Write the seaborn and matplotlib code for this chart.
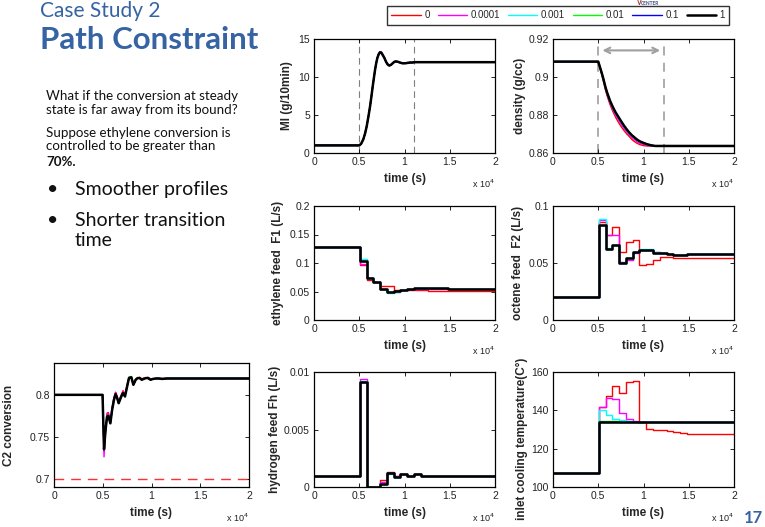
import matplotlib
matplotlib.use("Agg")
import matplotlib.pyplot as plt
import seaborn as sns
from matplotlib.lines import Line2D

sns.set_theme(style="white")
plt.rcParams["font.family"] = ["Liberation Sans", "DejaVu Sans"]

W, H = 765, 527
fig = plt.figure(figsize=(W / 100, H / 100), dpi=100)

# ---------------- data ----------------
series = ["0", "0.0001", "0.001", "0.01", "0.1", "1"]
colors = ["#ff0000", "#ff00ff", "#00ffff", "#00ff00", "#0000ff", "#000000"]
widths = [1.0, 1.0, 1.0, 1.0, 1.0, 1.8]

# MI (smooth)
mi_t = [0, 5000, 5200, 5450, 5650, 5820, 6000, 6190, 6340, 6480, 6620, 6740, 6870, 7000, 7150, 7290, 7440, 7590,
        7780, 7960, 8140, 8320, 8500, 8690, 8880, 9060, 9280, 9500, 9780, 10060, 10330, 10610, 10880, 11160, 11500, 20000]
mi_black = [1.0, 1.0, 1.2, 1.8, 2.6, 3.5, 4.7, 6.1, 7.4, 8.7, 9.9, 10.9, 11.8, 12.5, 13.0, 13.25, 13.2, 12.9,
            12.5, 12.0, 11.65, 11.5, 11.6, 11.8, 12.0, 12.05, 12.0, 11.9, 11.8, 11.8, 11.85, 11.9, 11.9, 11.95, 11.95, 11.95]
mi_magenta = [1.0, 1.0, 1.2, 1.8, 2.6, 3.5, 4.7, 6.1, 7.4, 8.7, 9.9, 10.9, 11.8, 12.55, 13.1, 13.35, 13.3, 13.0,
              12.55, 12.05, 11.7, 11.55, 11.65, 11.85, 12.05, 12.1, 12.0, 11.9, 11.8, 11.85, 11.9, 11.95, 11.9, 12.0, 11.95, 11.95]
mi_red = [1.0, 1.0, 1.2, 1.8, 2.6, 3.5, 4.7, 6.1, 7.4, 8.7, 9.9, 10.9, 11.8, 12.5, 13.05, 13.3, 13.25, 12.95,
          12.5, 12.0, 11.7, 11.55, 11.6, 11.8, 12.0, 12.05, 12.0, 11.9, 11.85, 11.8, 11.85, 11.9, 11.95, 11.95, 11.95, 11.95]

# density (smooth)
dens_t = [0, 5000, 5200, 5400, 5600, 5800, 6000, 6300, 6600, 6900, 7200, 7500, 7800, 8100, 8400, 8700, 9000, 9300,
          9600, 10000, 10400, 10800, 11300, 12000, 20000]
dens_black = [0.9081, 0.9081, 0.9050, 0.9019, 0.8984, 0.8946, 0.8915, 0.8875, 0.8843, 0.8815, 0.8792, 0.8769, 0.8747,
              0.8727, 0.8709, 0.8694, 0.8682, 0.8670, 0.8661, 0.8653, 0.8646, 0.8641, 0.8637, 0.8637, 0.8637]
dens_magenta = [0.9081, 0.9081, 0.9047, 0.9014, 0.8977, 0.8938, 0.8905, 0.8863, 0.8829, 0.8800, 0.8776, 0.8753, 0.8732,
                0.8713, 0.8697, 0.8682, 0.8670, 0.8659, 0.8651, 0.8645, 0.8640, 0.8638, 0.8637, 0.8637, 0.8637]
dens_red = [0.9081, 0.9081, 0.9045, 0.9011, 0.8972, 0.8932, 0.8898, 0.8855, 0.8820, 0.8790, 0.8764, 0.8741, 0.8721,
            0.8703, 0.8688, 0.8672, 0.8660, 0.8651, 0.8644, 0.8639, 0.8637, 0.8637, 0.8637, 0.8637, 0.8637]
dens_cyan = [0.9081, 0.9081, 0.9049, 0.9017, 0.8981, 0.8943, 0.8911, 0.8870, 0.8837, 0.8809, 0.8786, 0.8763, 0.8741,
             0.8721, 0.8704, 0.8690, 0.8678, 0.8667, 0.8658, 0.8651, 0.8645, 0.8640, 0.8637, 0.8637, 0.8637]

# C2 conversion (smooth)
c2_t = [0, 4980, 5130, 5280, 5440, 5570, 5780, 5960, 6150, 6320, 6480, 6630, 6900, 7080, 7280, 7500, 7690, 7930,
        8140, 8380, 8580, 8790, 9000, 9200, 9420, 9640, 9900, 10150, 10450, 10770, 11100, 11520, 12000, 20000]
c2_black = [0.800, 0.800, 0.735, 0.757, 0.774, 0.775, 0.766, 0.782, 0.794, 0.801, 0.796, 0.790, 0.798, 0.802, 0.798,
            0.810, 0.820, 0.821, 0.812, 0.818, 0.820, 0.820, 0.818, 0.819, 0.820, 0.820, 0.818, 0.819, 0.8195, 0.8195,
            0.8190, 0.8195, 0.8195, 0.8195]
c2_magenta = [0.800, 0.800, 0.726, 0.755, 0.777, 0.778, 0.767, 0.784, 0.796, 0.803, 0.797, 0.791, 0.799, 0.804, 0.799,
              0.811, 0.820, 0.821, 0.813, 0.818, 0.820, 0.820, 0.818, 0.819, 0.820, 0.820, 0.818, 0.819, 0.8195, 0.8195,
              0.8190, 0.8195, 0.8195, 0.8195]
c2_red = [0.800, 0.800, 0.733, 0.757, 0.778, 0.779, 0.768, 0.785, 0.797, 0.803, 0.798, 0.792, 0.800, 0.805, 0.800,
          0.812, 0.821, 0.821, 0.813, 0.819, 0.820, 0.821, 0.819, 0.820, 0.820, 0.821, 0.819, 0.819, 0.8195, 0.8195,
          0.8195, 0.8195, 0.8195, 0.8195]
c2_green = [0.800, 0.800, 0.735, 0.757, 0.774, 0.776, 0.766, 0.782, 0.795, 0.801, 0.796, 0.790, 0.798, 0.802, 0.798,
            0.811, 0.821, 0.822, 0.812, 0.818, 0.820, 0.820, 0.818, 0.819, 0.820, 0.820, 0.818, 0.819, 0.8195, 0.8195,
            0.8190, 0.8195, 0.8195, 0.8195]
c2_bound = [0.70, 0.70]
c2_bound_t = [0, 20000]

# piecewise-constant controls (step edges, post)
t_steps = [0, 5100, 5850, 6550, 7300, 8050, 8800, 9550, 10300, 11050, 11800, 12550, 13300, 14050, 14800, 20000]

f1_red = [0.128, 0.096, 0.071, 0.067, 0.059, 0.059, 0.052, 0.052, 0.053, 0.053, 0.052, 0.051, 0.051, 0.051, 0.051, 0.051]
f1_magenta = [0.128, 0.099, 0.073, 0.067, 0.055, 0.050, 0.050, 0.052, 0.054, 0.055, 0.055, 0.055, 0.055, 0.055, 0.054, 0.054]
f1_cyan = [0.128, 0.107, 0.074, 0.067, 0.054, 0.048, 0.050, 0.053, 0.055, 0.056, 0.056, 0.056, 0.056, 0.056, 0.054, 0.054]
f1_black = [0.128, 0.104, 0.074, 0.067, 0.054, 0.049, 0.051, 0.053, 0.055, 0.056, 0.056, 0.056, 0.056, 0.056, 0.054, 0.054]

f2_red = [0.020, 0.086, 0.075, 0.082, 0.060, 0.068, 0.070, 0.048, 0.049, 0.053, 0.055, 0.055, 0.054, 0.054, 0.054, 0.054]
f2_magenta = [0.020, 0.088, 0.075, 0.075, 0.051, 0.053, 0.059, 0.061, 0.061, 0.060, 0.059, 0.058, 0.057, 0.057, 0.058, 0.058]
f2_cyan = [0.020, 0.089, 0.063, 0.066, 0.050, 0.054, 0.060, 0.062, 0.062, 0.060, 0.059, 0.058, 0.057, 0.057, 0.058, 0.058]
f2_black = [0.020, 0.083, 0.062, 0.066, 0.050, 0.054, 0.060, 0.061, 0.061, 0.059, 0.059, 0.058, 0.057, 0.057, 0.058, 0.058]

fh_red = [0.0010, 0.0091, 0.0, 0.0, 0.0006, 0.0013, 0.0010, 0.0011, 0.0010, 0.0011, 0.0010, 0.0010, 0.00095, 0.00095, 0.00095, 0.00095]
fh_magenta = [0.0010, 0.0094, 0.0, 0.0, 0.0004, 0.0012, 0.0010, 0.0011, 0.0010, 0.0011, 0.0010, 0.0010, 0.0010, 0.0010, 0.0010, 0.0010]
fh_cyan = [0.0010, 0.0092, 0.0, 0.0, 0.0003, 0.0011, 0.0009, 0.0011, 0.0010, 0.0011, 0.0010, 0.0010, 0.0010, 0.0010, 0.0010, 0.0010]
fh_black = [0.0010, 0.0091, 0.0, 0.0, 0.0003, 0.0012, 0.0009, 0.0011, 0.0010, 0.0011, 0.0010, 0.0010, 0.0010, 0.0010, 0.0010, 0.0010]

tc_red = [107.5, 142.0, 147.5, 152.5, 149.0, 155.0, 155.5, 134.0, 130.5, 130.0, 129.5, 129.0, 128.8, 128.3, 127.8, 127.8]
tc_magenta = [107.5, 142.0, 146.5, 146.0, 138.5, 135.5, 134.5, 134.0, 133.8, 133.8, 133.8, 133.8, 133.8, 133.8, 133.8, 133.8]
tc_cyan = [107.5, 140.0, 137.5, 135.5, 134.8, 134.2, 134.0, 133.8, 133.8, 133.8, 133.8, 133.8, 133.8, 133.8, 133.8, 133.8]
tc_green = [107.5, 134.5, 134.5, 134.5, 134.0, 133.8, 133.8, 133.8, 133.8, 133.8, 133.8, 133.8, 133.8, 133.8, 133.8, 133.8]
tc_black = [107.5, 133.8, 133.8, 133.8, 133.8, 133.8, 133.8, 133.8, 133.8, 133.8, 133.8, 133.8, 133.8, 133.8, 133.8, 133.8]

x_ticks = [0, 5000, 10000, 15000, 20000]
x_ticklabels = ["0", "0.5", "1", "1.5", "2"]

# ---------------- helpers ----------------
def add_ax(l, t, r, b):
    return fig.add_axes([l / W, 1 - b / H, (r - l) / W, (b - t) / H])


def style(ax, ylim, yticks, yticklabels, ylabel, ylab_x, hpx):
    ax.set_xlim(0, 20000)
    ax.set_ylim(*ylim)
    ax.set_xticks(x_ticks)
    ax.set_xticklabels(x_ticklabels)
    ax.set_yticks(yticks)
    ax.set_yticklabels(yticklabels)
    ax.set_facecolor("white")
    for s in ax.spines.values():
        s.set_color("black")
        s.set_linewidth(0.9)
        s.set_visible(True)
    ax.tick_params(direction="in", top=True, right=True, bottom=True, left=True,
                   length=3, width=0.6, labelsize=7.5, pad=3, colors="black",
                   labelcolor="#222222")
    ax.set_xlabel("time (s)", fontsize=8.5, fontweight="bold", labelpad=4)
    ax.set_ylabel(ylabel, fontsize=8.5, fontweight="bold")
    ax.yaxis.set_label_coords(ylab_x, 0.5)
    ax.text(1.0, -31 / hpx, r"x 10$^4$", transform=ax.transAxes, ha="right",
            va="center", fontsize=6.5, color="#222222")
    ax.grid(False)


def draw(ax, t, ys, steps=False):
    for y, c, w in zip(ys, colors, widths):
        kw = dict(drawstyle="steps-post") if steps else {}
        sns.lineplot(x=t, y=y, ax=ax, color=c, lw=w, estimator=None, sort=False, **kw)


# ---------------- panels ----------------
ax_mi = add_ax(314, 39, 495, 153)
draw(ax_mi, mi_t, [mi_red, mi_magenta, mi_black, mi_black, mi_black, mi_black])
for xv in [5000, 11000]:
    ax_mi.axvline(xv, color="#7f7f7f", lw=0.8, dashes=(6, 4), zorder=0)
style(ax_mi, (0, 15), [0, 5, 10, 15], ["0", "5", "10", "15"], "MI (g/10min)", -0.116, 114)

ax_de = add_ax(553, 39, 734, 153)
draw(ax_de, dens_t, [dens_red, dens_magenta, dens_cyan, dens_black, dens_black, dens_black])
for xv in [5000, 12300]:
    ax_de.axvline(xv, color="#a6a6a6", lw=1.3, dashes=(5, 4), zorder=0)
ax_de.annotate("", xy=(5150, 0.914), xytext=(12150, 0.914),
               arrowprops=dict(arrowstyle="<->", color="#a0a0a0", lw=1.5, mutation_scale=10))
style(ax_de, (0.86, 0.92), [0.86, 0.88, 0.90, 0.92], ["0.86", "0.88", "0.9", "0.92"],
      "density (g/cc)", -0.149, 114)

ax_f1 = add_ax(314, 206, 495, 320)
draw(ax_f1, t_steps, [f1_red, f1_magenta, f1_cyan, f1_black, f1_black, f1_black], steps=True)
style(ax_f1, (0, 0.2), [0, 0.05, 0.1, 0.15, 0.2], ["0", "0.05", "0.1", "0.15", "0.2"],
      "ethylene feed  F1 (L/s)", -0.166, 114)

ax_f2 = add_ax(553, 206, 734, 320)
draw(ax_f2, t_steps, [f2_red, f2_magenta, f2_cyan, f2_black, f2_black, f2_black], steps=True)
style(ax_f2, (0, 0.1), [0, 0.05, 0.1], ["0", "0.05", "0.1"], "octene feed  F2 (L/s)", -0.160, 114)

ax_fh = add_ax(314, 372, 495, 487)
draw(ax_fh, t_steps, [fh_red, fh_magenta, fh_cyan, fh_black, fh_black, fh_black], steps=True)
style(ax_fh, (0, 0.01), [0, 0.005, 0.01], ["0", "0.005", "0.01"], "hydrogen feed Fh (L/s)", -0.182, 115)

ax_tc = add_ax(553, 372, 734, 487)
draw(ax_tc, t_steps, [tc_red, tc_magenta, tc_cyan, tc_green, tc_black, tc_black], steps=True)
style(ax_tc, (100, 160), [100, 120, 140, 160], ["100", "120", "140", "160"],
      "inlet cooling temperature(C°)", -0.138, 115)
ax_tc.yaxis.set_label_coords(-0.138, 0.42)

ax_c2 = add_ax(54, 363, 249, 487)
sns.lineplot(x=c2_bound_t, y=c2_bound, ax=ax_c2, color="#ff3030", lw=1.0, dashes=False,
             estimator=None, sort=False).lines[-1].set_dashes((7, 5))
draw(ax_c2, c2_t, [c2_red, c2_magenta, c2_black, c2_green, c2_black, c2_black])
style(ax_c2, (0.69, 0.838), [0.7, 0.75, 0.8], ["0.7", "0.75", "0.8"], "C2 conversion", -0.20, 124)

# ---------------- legend ----------------
handles = [Line2D([0], [0], color=c, lw=w) for c, w in zip(colors, widths)]
leg = fig.legend(handles, series, ncol=6, loc="upper left", bbox_to_anchor=(387 / W, 1 - 6 / H),
                 frameon=True, fancybox=False, fontsize=7, handlelength=3.0, handletextpad=0.4,
                 columnspacing=0.8, borderpad=0.45, borderaxespad=0)
leg.get_frame().set_edgecolor("black")
leg.get_frame().set_linewidth(1.0)

# ---------------- slide text ----------------
blue = "#3563a3"
sf = ["Lato", "DejaVu Sans"]
txt = "#111111"
fig.text(40 / W, 1 - 1 / H, "Case Study 2", fontsize=15, color=blue, family=sf, va="top")
fig.text(40 / W, 1 - 49 / H, "Path Constraint", fontsize=22.5, color=blue, family=sf,
         fontweight="bold", va="baseline")
fig.text(46 / W, 1 - 100 / H, "What if the conversion at steady", fontsize=9.6, family=sf, va="baseline", color=txt)
fig.text(46 / W, 1 - 114 / H, "state is far away from its bound?", fontsize=9.6, family=sf, va="baseline", color=txt)
fig.text(46 / W, 1 - 137 / H, "Suppose ethylene conversion is", fontsize=9.6, family=sf, va="baseline", color=txt)
fig.text(46 / W, 1 - 150 / H, "controlled to be greater than", fontsize=9.6, family=sf, va="baseline", color=txt)
fig.text(46 / W, 1 - 166 / H, "70%.", fontsize=9.6, family=sf, va="baseline", fontweight="bold", color=txt)
fig.text(47 / W, 1 - 195 / H, "•", fontsize=14, family=sf, va="baseline", color=txt)
fig.text(75 / W, 1 - 195 / H, "Smoother profiles", fontsize=14, family=sf, va="baseline", color=txt)
fig.text(47 / W, 1 - 226 / H, "•", fontsize=14, family=sf, va="baseline", color=txt)
fig.text(75 / W, 1 - 226 / H, "Shorter transition", fontsize=14, family=sf, va="baseline", color=txt)
fig.text(75 / W, 1 - 246 / H, "time", fontsize=14, family=sf, va="baseline", color=txt)
fig.text(763 / W, 1 - 526 / H, "17", fontsize=12, color=blue, family=sf, fontweight="bold",
         ha="right", va="bottom")
fig.text(636 / W, 1 - 5 / H, "V", fontsize=5, color="#b03030", family=sf, fontweight="bold", va="baseline")
fig.text(641 / W, 1 - 5 / H, "CENTER", fontsize=3.5, color="#3a4f7a", family=sf, fontweight="bold", va="baseline")

fig.savefig("out.png", dpi=100, facecolor="white")
